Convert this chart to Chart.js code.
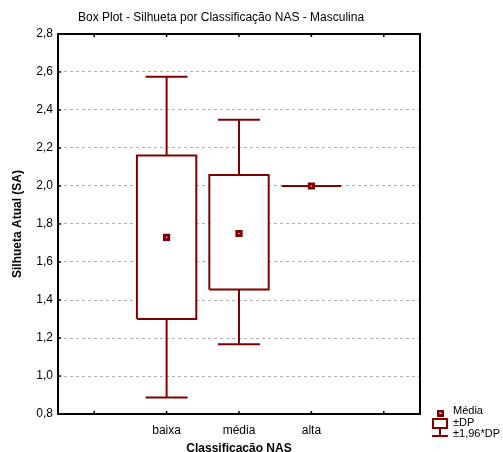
<!DOCTYPE html>
<html>
<head>
<meta charset="utf-8">
<script src="https://cdn.jsdelivr.net/npm/chart.js@4"></script>
<style>
  html, body { margin: 0; padding: 0; background: #fff; }
  #wrap { width: 503px; height: 452px; }
</style>
</head>
<body>
<div id="wrap"><canvas id="boxChart" width="503" height="452"></canvas></div>
<script>
// Box plot values (mean, mean±DP, mean±1,96*DP)
const categories = ['baixa', 'média', 'alta'];
const catPos = [2, 3, 4];
const means = [1.73, 1.75, 2.00];
const sdLow = [1.30, 1.455, 2.00];
const sdHigh = [2.16, 2.058, 2.00];
const ciLow = [0.887, 1.167, 2.00];
const ciHigh = [2.575, 2.349, 2.00];
const xTicks = [1, 2, 3, 4, 5];
const yTicks = [0.8, 1.0, 1.2, 1.4, 1.6, 1.8, 2.0, 2.2, 2.4, 2.6, 2.8];

const RED = '#800000';
const FONT = 'Liberation Sans, Arial, sans-serif';
const BOX_HALF = 0.41;
const CAP_HALF = 0.29;

// Whiskers: vertical stems plus caps, broken up with null points
const whiskerData = [];
catPos.forEach((p, i) => {
    whiskerData.push({ x: p, y: sdHigh[i] }, { x: p, y: ciHigh[i] }, { x: p, y: null });
    whiskerData.push({ x: p - CAP_HALF, y: ciHigh[i] }, { x: p + CAP_HALF, y: ciHigh[i] }, { x: p, y: null });
    whiskerData.push({ x: p, y: sdLow[i] }, { x: p, y: ciLow[i] }, { x: p, y: null });
    whiskerData.push({ x: p - CAP_HALF, y: ciLow[i] }, { x: p + CAP_HALF, y: ciLow[i] }, { x: p, y: null });
});

// One closed rectangle per category
const boxSets = catPos.map((p, i) => ({
    data: [
        { x: p - BOX_HALF, y: sdLow[i] },
        { x: p + BOX_HALF, y: sdLow[i] },
        { x: p + BOX_HALF, y: sdHigh[i] },
        { x: p - BOX_HALF, y: sdHigh[i] },
        { x: p - BOX_HALF, y: sdLow[i] }
    ],
    borderColor: RED,
    borderWidth: 2,
    backgroundColor: '#ffffff',
    fill: 'shape',
    pointRadius: 0,
    order: 1
}));

// Frame, small tick marks, title and legend
const decorPlugin = {
    id: 'decor',
    afterDatasetsDraw(chart) {
        const { ctx, chartArea: a, scales } = chart;
        ctx.save();
        ctx.strokeStyle = '#000';
        ctx.lineWidth = 2;
        ctx.strokeRect(a.left, a.top, a.right - a.left, a.bottom - a.top);
        ctx.lineWidth = 1.5;
        xTicks.forEach(v => {
            const px = scales.x.getPixelForValue(v);
            ctx.beginPath();
            ctx.moveTo(px, a.top - 1); ctx.lineTo(px, a.top + 3);
            ctx.moveTo(px, a.bottom - 3); ctx.lineTo(px, a.bottom + 1);
            ctx.stroke();
        });
        yTicks.forEach(v => {
            const py = scales.y.getPixelForValue(v);
            ctx.beginPath();
            ctx.moveTo(a.left, py); ctx.lineTo(a.left + 3, py);
            ctx.stroke();
        });
        ctx.restore();
    },
    afterDraw(chart) {
        const { ctx } = chart;
        ctx.save();
        ctx.fillStyle = '#000';
        ctx.font = '12px ' + FONT;
        ctx.textBaseline = 'middle';
        ctx.textAlign = 'left';
        ctx.fillText('Box Plot - Silhueta por Classificação NAS - Masculina', 78, 18);

        // legend
        ctx.font = '11px ' + FONT;
        ctx.fillText('Média', 453, 411);
        ctx.fillText('±DP', 453, 423);
        ctx.fillText('±1,96*DP', 453, 434);
        ctx.fillStyle = RED;
        ctx.fillRect(437, 410, 7, 7);
        ctx.fillStyle = '#fff';
        ctx.fillRect(439.5, 412.5, 2, 1.5);
        ctx.strokeStyle = RED;
        ctx.lineWidth = 2;
        ctx.strokeRect(433, 419, 14, 9);
        ctx.beginPath();
        ctx.moveTo(440, 428); ctx.lineTo(440, 436);
        ctx.moveTo(432, 436); ctx.lineTo(448, 436);
        ctx.stroke();
        ctx.restore();
    }
};

new Chart(document.getElementById('boxChart').getContext('2d'), {
    type: 'line',
    data: {
        datasets: [
            {
                data: whiskerData,
                borderColor: RED,
                borderWidth: 2,
                pointRadius: 0,
                spanGaps: false,
                fill: false,
                order: 2
            },
            ...boxSets,
            {
                data: catPos.map((p, i) => ({ x: p, y: means[i] })),
                showLine: false,
                pointStyle: 'rect',
                pointRadius: 3.0,
                pointBorderWidth: 3,
                pointBorderColor: RED,
                pointBackgroundColor: '#ffffff',
                order: 0
            }
        ]
    },
    options: {
        responsive: false,
        animation: false,
        events: [],
        layout: { padding: { top: 34, right: 83, left: 0, bottom: 0 } },
        plugins: {
            legend: { display: false },
            tooltip: { enabled: false },
            title: { display: false }
        },
        scales: {
            x: {
                type: 'linear',
                min: 0.5,
                max: 5.5,
                afterFit: s => { s.height = 38; },
                afterBuildTicks: s => { s.ticks = xTicks.map(v => ({ value: v })); },
                grid: { display: false },
                border: { display: false },
                ticks: {
                    padding: 1,
                    color: '#000',
                    font: { family: FONT, size: 12 },
                    maxRotation: 0,
                    autoSkip: false,
                    callback: v => {
                        const k = catPos.indexOf(v);
                        return k >= 0 ? categories[k] : '';
                    }
                },
                title: {
                    display: true,
                    text: 'Classificação NAS',
                    color: '#000',
                    font: { family: FONT, size: 12, weight: 'bold' },
                    padding: { top: -4, bottom: -4 }
                }
            },
            y: {
                min: 0.8,
                max: 2.8,
                afterFit: s => { s.width = 58; },
                afterBuildTicks: s => { s.ticks = yTicks.map(v => ({ value: v })); },
                grid: { color: '#b0b0b0', lineWidth: 1, drawTicks: false },
                border: { display: false, dash: [3, 3] },
                ticks: {
                    padding: 5,
                    color: '#000',
                    font: { family: FONT, size: 12 },
                    callback: v => v.toFixed(1).replace('.', ',')
                },
                title: {
                    display: true,
                    text: 'Silhueta Atual (SA)',
                    color: '#000',
                    font: { family: FONT, size: 12, weight: 'bold' },
                    padding: { top: 10, bottom: 0 }
                }
            }
        }
    },
    plugins: [decorPlugin]
});
</script>
</body>
</html>
